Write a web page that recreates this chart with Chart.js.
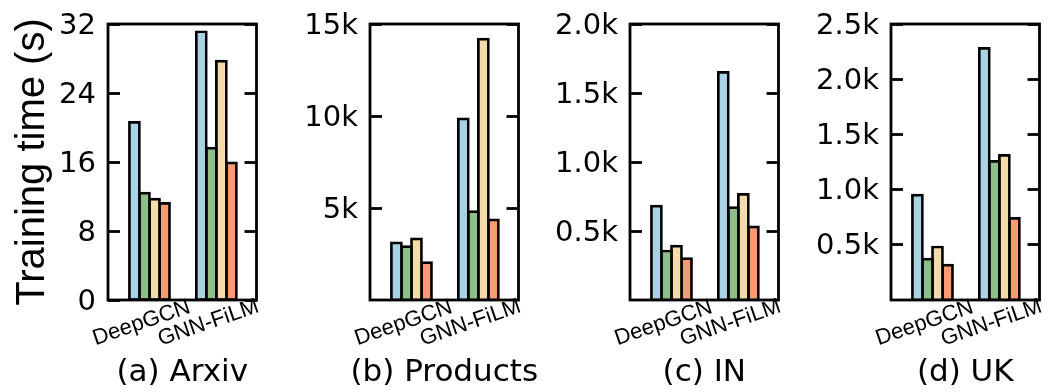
<!DOCTYPE html>
<html>
<head>
<meta charset="utf-8">
<script src="https://cdn.jsdelivr.net/npm/chart.js@4.4.1/dist/chart.umd.min.js"></script>
<style>
  html, body { margin: 0; padding: 0; background: #ffffff; }
  #wrap { position: relative; width: 1048px; height: 392px; overflow: hidden; background: #ffffff; }
  .panel { position: absolute; top: 0; }
  .panel canvas { display: block; }
</style>
</head>
<body>
<div id="wrap"></div>
<script>
// Models on the x axis
const categories = ['DeepGCN', 'GNN-FiLM'];
const panelTitles = ['(a) Arxiv', '(b) Products', '(c) IN', '(d) UK'];
const yAxisTitle = 'Training time (s)';
const seriesColors = ['#a9d2e5', '#8dbf89', '#f4dba9', '#f89b72'];

// Training time in seconds: one row per series, one column per model
const arxivTimes    = [[20.6, 31.1], [12.4, 17.6], [11.7, 27.7], [11.2, 15.9]];
const productsTimes = [[3110, 9840], [2900, 4800], [3320, 14180], [2030, 4350]];
const inTimes       = [[680, 1650], [355, 670], [390, 765], [300, 530]];
const ukTimes       = [[950, 2280], [370, 1255], [480, 1310], [315, 740]];

// Y axis ticks and their labels
const arxivTicks = [0, 8, 16, 24, 32];
const arxivTickLabels = ['0', '8', '16', '24', '32'];
const productsTicks = [5000, 10000, 15000];
const productsTickLabels = ['5k', '10k', '15k'];
const inTicks = [500, 1000, 1500, 2000];
const inTickLabels = ['0.5k', '1.0k', '1.5k', '2.0k'];
const ukTicks = [500, 1000, 1500, 2000, 2500];
const ukTickLabels = ['0.5k', '1.0k', '1.5k', '2.0k', '2.5k'];
const yMaxima = [32, 15000, 2000, 2500];

// Panel placement on the page (canvases overlap; they are transparent)
const panelLefts = [0, 262, 522, 783];
const panelWidths = [300, 300, 300, 265];
const AXIS_W = 108;
const PLOT_W = 148.5;
const PLOT_TOP = 24;
const XAXIS_H = 92;
const LINE_W = 2.8;

// Closed black frame around the plotting area, drawn above the bars
const framePlugin = {
  id: 'frame',
  afterDatasetsDraw(chart) {
    const { ctx, chartArea: a } = chart;
    ctx.save();
    ctx.strokeStyle = '#000';
    ctx.lineWidth = LINE_W;
    ctx.strokeRect(a.left, a.top, a.right - a.left, a.bottom - a.top);
    ctx.restore();
  }
};

// Slanted model names under each bar group, plus the panel caption
const labelPlugin = {
  id: 'panelLabels',
  afterDraw(chart, args, opts) {
    const xs = chart.scales.x;
    const a = chart.chartArea;
    const ctx = chart.ctx;
    ctx.save();
    ctx.fillStyle = '#000';
    ctx.textAlign = 'center';
    ctx.textBaseline = 'middle';
    ctx.font = '22px "Liberation Sans", Arial, sans-serif';
    categories.forEach((name, i) => {
      const px = xs.getPixelForValue(i);
      ctx.save();
      ctx.translate(px - 8, a.bottom + 23);
      ctx.rotate(-19 * Math.PI / 180);
      ctx.fillText(name, 0, 0);
      ctx.restore();
    });
    ctx.font = '31px "DejaVu Sans", sans-serif';
    ctx.fillText(opts.caption, (a.left + a.right) / 2, 373);
    ctx.restore();
  }
};

function yScale(position, tickValues, tickLabels, yMax, width, showLabels, title) {
  return {
    type: 'linear',
    position: position,
    min: 0,
    max: yMax,
    grid: {
      display: true,
      drawOnChartArea: false,
      drawTicks: true,
      tickLength: -12,
      tickWidth: LINE_W,
      tickColor: '#000'
    },
    border: { display: false },
    afterBuildTicks: s => { s.ticks = tickValues.map(v => ({ value: v })); },
    ticks: {
      display: showLabels,
      autoSkip: false,
      callback: (v, i) => tickLabels[i],
      padding: 24,
      labelOffset: 2,
      color: '#000',
      font: { family: '"DejaVu Sans"', size: 29 }
    },
    afterFit: s => {
      s.width = width;
      s.paddingTop = 0;
      s.paddingBottom = 0;
    },
    title: title
  };
}

function buildPanel(idx, times, tickValues, tickLabels) {
  const holder = document.createElement('div');
  holder.className = 'panel';
  holder.style.left = panelLefts[idx] + 'px';
  holder.style.width = panelWidths[idx] + 'px';
  holder.style.height = '392px';
  const canvas = document.createElement('canvas');
  canvas.width = panelWidths[idx];
  canvas.height = 392;
  canvas.style.width = panelWidths[idx] + 'px';
  canvas.style.height = '392px';
  holder.appendChild(canvas);
  document.getElementById('wrap').appendChild(holder);

  const yTitle = idx === 0
    ? { display: true, text: yAxisTitle, color: '#000',
        font: { family: '"Liberation Sans"', size: 40 }, padding: { top: 9, bottom: 0 } }
    : { display: false };

  new Chart(canvas, {
    type: 'bar',
    data: {
      datasets: times.map((row, s) => ({
        data: row.map((v, i) => ({ x: i, y: v })),
        backgroundColor: seriesColors[s],
        borderColor: '#000',
        borderWidth: 2.7,
        borderSkipped: false,
        inflateAmount: 1.35,
        categoryPercentage: 0.6,
        barPercentage: 1.0
      }))
    },
    options: {
      responsive: false,
      animation: false,
      devicePixelRatio: 1,
      layout: { padding: { top: PLOT_TOP, left: 0, right: 0, bottom: 0 } },
      plugins: {
        legend: { display: false },
        tooltip: { enabled: false },
        panelLabels: { caption: panelTitles[idx] }
      },
      scales: {
        x: {
          type: 'linear',
          offset: false,
          min: -0.62,
          max: 1.6,
          grid: { display: false },
          border: { display: false },
          ticks: { display: false },
          afterBuildTicks: s => { s.ticks = categories.map((c, i) => ({ value: i })); },
          afterFit: s => { s.height = XAXIS_H; }
        },
        y: yScale('left', tickValues, tickLabels, yMaxima[idx], AXIS_W, true, yTitle),
        y2: yScale('right', tickValues, tickLabels, yMaxima[idx],
                   panelWidths[idx] - AXIS_W - PLOT_W, false, { display: false })
      }
    },
    plugins: [framePlugin, labelPlugin]
  });
}

buildPanel(0, arxivTimes, arxivTicks, arxivTickLabels);
buildPanel(1, productsTimes, productsTicks, productsTickLabels);
buildPanel(2, inTimes, inTicks, inTickLabels);
buildPanel(3, ukTimes, ukTicks, ukTickLabels);
</script>
</body>
</html>
